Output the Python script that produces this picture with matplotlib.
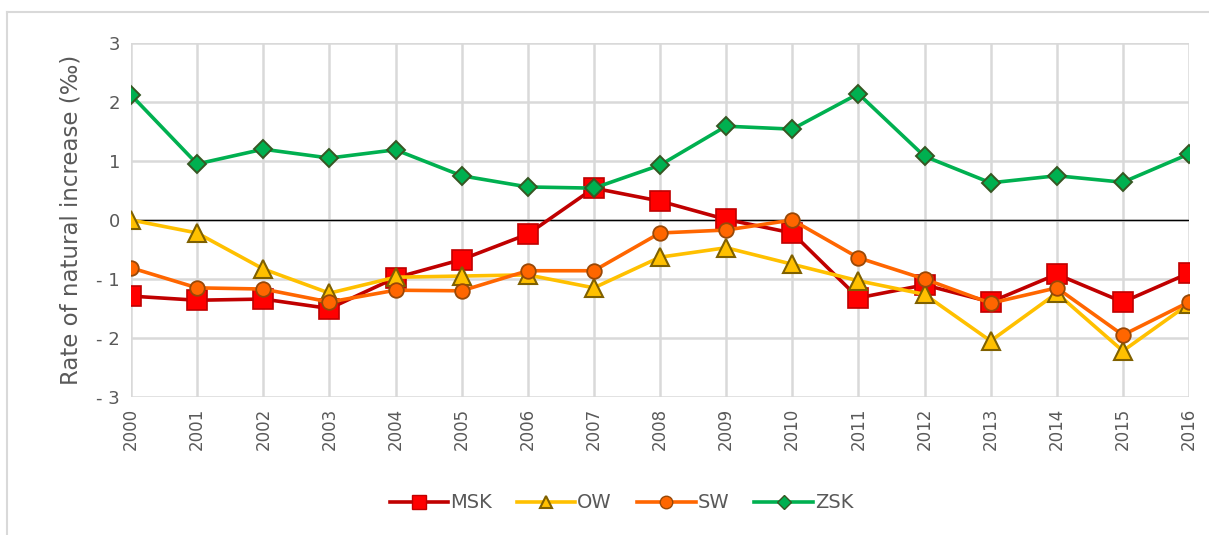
import matplotlib.pyplot as plt
from matplotlib.lines import Line2D

years = list(range(2000, 2017))
msk = [-1.29, -1.36, -1.34, -1.50, -0.98, -0.67, -0.24, 0.54, 0.32, 0.01, -0.22, -1.32, -1.10, -1.39, -0.92, -1.39, -0.90]
ow = [0.0, -0.22, -0.83, -1.24, -0.97, -0.95, -0.93, -1.15, -0.63, -0.47, -0.75, -1.03, -1.26, -2.05, -1.24, -2.22, -1.42]
sw = [-0.81, -1.15, -1.17, -1.39, -1.19, -1.20, -0.86, -0.86, -0.22, -0.17, 0.0, -0.64, -1.00, -1.41, -1.15, -1.95, -1.39]
zsk = [2.12, 0.95, 1.20, 1.05, 1.19, 0.75, 0.56, 0.54, 0.93, 1.59, 1.54, 2.14, 1.08, 0.63, 0.75, 0.64, 1.12]
yticks = [-3, -2, -1, 0, 1, 2, 3]
ytick_labels = ["- 3", "- 2", "- 1", "0", "1", "2", "3"]

grey = "#595959"
fig = plt.figure(figsize=(12.09, 5.35), dpi=100)
ax = fig.add_axes([131 / 1209, 138 / 535, 1058 / 1209, 354 / 535])

ax.plot(years, msk, color="#c00000", lw=2.6, marker="s", ms=14,
        mfc="#ff0000", mec="#c00000", mew=1.2, label="MSK")
ax.plot(years, ow, color="#ffc000", lw=2.6, marker="^", ms=13,
        mfc="#ffc000", mec="#7f6000", mew=1.5, label="OW")
ax.plot(years, sw, color="#ff6600", lw=2.6, marker="o", ms=10.5,
        mfc="#ff6600", mec="#984807", mew=1.3, label="SW")
ax.plot(years, zsk, color="#00b050", lw=2.6, marker="D", ms=9.5,
        mfc="#00b050", mec="#375623", mew=1.4, label="ZSK")

ax.axhline(0, color="black", lw=1, zorder=1.5)
ax.set_xlim(2000, 2016)
ax.set_ylim(-3, 3)
ax.set_xticks(years)
ax.set_xticklabels([str(y) for y in years], rotation=90, fontsize=12, color=grey)
ax.set_yticks(yticks)
ax.set_yticklabels(ytick_labels, fontsize=13, color=grey)
ax.tick_params(length=0, pad=8)
ax.grid(True, color="#d9d9d9", lw=1.8)
ax.set_axisbelow(True)
for s in ax.spines.values():
    s.set_visible(False)
ax.set_ylabel("Rate of natural increase (‰)", fontsize=16.5, color=grey, labelpad=10)

handles = [
    Line2D([], [], color="#c00000", lw=2.6, marker="s", ms=10, mfc="#ff0000", mec="#c00000"),
    Line2D([], [], color="#ffc000", lw=2.6, marker="^", ms=9, mfc="#ffc000", mec="#7f6000", mew=1.5),
    Line2D([], [], color="#ff6600", lw=2.6, marker="o", ms=9, mfc="#ff6600", mec="#984807"),
    Line2D([], [], color="#00b050", lw=2.6, marker="D", ms=7, mfc="#00b050", mec="#375623"),
]
leg = fig.legend(handles, ["MSK", "OW", "SW", "ZSK"], loc="center", bbox_to_anchor=(0.514, 0.06),
                 ncol=4, frameon=False, fontsize=14, handlelength=3.0, handletextpad=0.1,
                 columnspacing=1.3)
for t in leg.get_texts():
    t.set_color(grey)

# outer chart frame
fig.add_artist(Line2D([7 / 1209, 7 / 1209], [0, 1 - 12 / 535], color="#d9d9d9", lw=1.5))
fig.add_artist(Line2D([7 / 1209, 1], [1 - 12 / 535, 1 - 12 / 535], color="#d9d9d9", lw=1.5))

fig.savefig("out.png", dpi=100)
